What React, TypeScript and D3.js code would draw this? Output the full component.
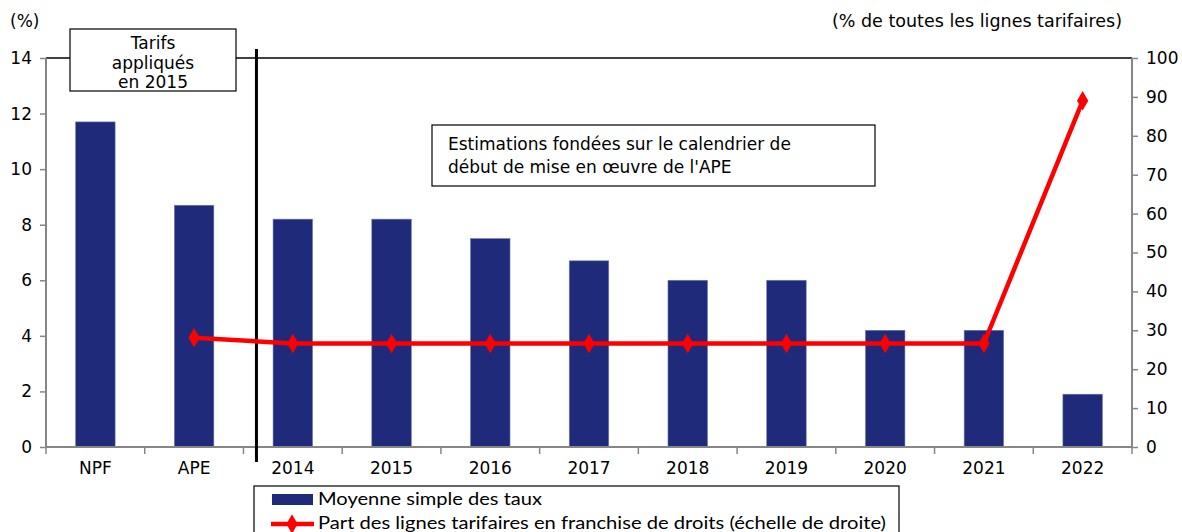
import * as d3 from "d3";
import { useEffect, useRef } from "react";

const categories = ["NPF", "APE", "2014", "2015", "2016", "2017", "2018", "2019", "2020", "2021", "2022"];
const avgRates = [11.7, 8.7, 8.2, 8.2, 7.5, 6.7, 6.0, 6.0, 4.2, 4.2, 1.9];
const dutyFreeShare = [null, 28.1, 26.6, 26.6, 26.6, 26.6, 26.6, 26.6, 26.6, 26.6, 89];
const leftTicks = [0, 2, 4, 6, 8, 10, 12, 14];
const rightTicks = [0, 10, 20, 30, 40, 50, 60, 70, 80, 90, 100];

const W = 1182;
const H = 532;
const FONT = "'DejaVu Sans', Verdana, sans-serif";
const LEG_FONT = "Lato, Carlito, Calibri, sans-serif";
const FS = 17;

export default function App() {
  const svgRef = useRef<SVGSVGElement>(null);

  useEffect(() => {
    const svg = d3.select(svgRef.current);
    svg.selectAll("*").remove();

    const left = 46, right = 1132, top = 58, bottom = 447;
    const x = d3.scaleBand().domain(categories).range([left, right]).paddingInner(0.6).paddingOuter(0.3);
    const xb = d3.scaleBand().domain(categories).range([left, right]);
    const yL = d3.scaleLinear().domain([0, 14]).range([bottom, top]);
    const yR = d3.scaleLinear().domain([0, 100]).range([bottom, top]);
    const grey = "#868686";

    // top border
    svg.append("line").attr("x1", left).attr("x2", right).attr("y1", top).attr("y2", top)
      .attr("stroke", "#000").attr("stroke-width", 1.5);

    // bars
    svg.append("g").selectAll("rect").data(categories).enter().append("rect")
      .attr("x", (d) => x(d)!)
      .attr("width", x.bandwidth())
      .attr("y", (_, i) => yL(avgRates[i]))
      .attr("height", (_, i) => bottom - yL(avgRates[i]))
      .attr("fill", "#1f2b7a")
      .attr("stroke", "#6f78b0").attr("stroke-width", 0.6);

    // axes
    const axL = svg.append("g").attr("transform", `translate(${left},0)`)
      .call(d3.axisLeft(yL).tickValues(leftTicks).tickSize(6).tickPadding(8).tickFormat(d3.format("d")));
    const axR = svg.append("g").attr("transform", `translate(${right},0)`)
      .call(d3.axisRight(yR).tickValues(rightTicks).tickSize(6).tickPadding(8).tickFormat(d3.format("d")));
    const axB = svg.append("g").attr("transform", `translate(0,${bottom})`)
      .call(d3.axisBottom(xb).tickSize(0).tickPadding(15));
    // category boundary ticks
    const bounds = categories.map((c) => xb(c)!).concat([right]);
    svg.append("g").selectAll("line").data(bounds).enter().append("line")
      .attr("x1", (d) => d).attr("x2", (d) => d).attr("y1", bottom).attr("y2", bottom + 7)
      .attr("stroke", grey).attr("stroke-width", 1.5);

    [axL, axR, axB].forEach((g) => {
      g.selectAll("path.domain").attr("stroke", grey).attr("stroke-width", 2);
      g.selectAll(".tick line").attr("stroke", grey).attr("stroke-width", 1.5);
      g.selectAll("text").attr("font-family", FONT).attr("font-size", FS).attr("fill", "#000");
    });
    axL.select("path.domain").attr("d", `M0,${bottom}V${top}`);
    axR.select("path.domain").attr("d", `M0,${bottom}V${top}`);
    axB.select("path.domain").attr("d", `M${left},0H${right}`);

    // vertical separator, just right of the APE/2014 boundary
    const sepX = xb("2014")! + 13;
    svg.append("line").attr("x1", sepX).attr("x2", sepX).attr("y1", 49).attr("y2", 462)
      .attr("stroke", "#000").attr("stroke-width", 3);

    // line series
    const pts = categories.map((c, i) => ({ c, v: dutyFreeShare[i] })).filter((p) => p.v !== null) as { c: string; v: number }[];
    const cx = (c: string) => xb(c)! + xb.bandwidth() / 2;
    const line = d3.line<{ c: string; v: number }>().x((d) => cx(d.c)).y((d) => yR(d.v));
    svg.append("path").datum(pts).attr("d", line).attr("fill", "none")
      .attr("stroke", "#ff0000").attr("stroke-width", 4.5).attr("stroke-linejoin", "round");
    const diamond = d3.symbol().type(d3.symbolDiamond).size(110);
    svg.append("g").selectAll("path").data(pts).enter().append("path")
      .attr("d", diamond)
      .attr("transform", (d) => `translate(${cx(d.c)},${yR(d.v)})`)
      .attr("fill", "#ff0000");

    // axis titles
    svg.append("text").attr("x", 10).attr("y", 27).text("(%)")
      .attr("font-family", FONT).attr("font-size", FS);
    svg.append("text").attr("x", 1122).attr("y", 27).attr("text-anchor", "end")
      .text("(% de toutes les lignes tarifaires)")
      .attr("font-family", FONT).attr("font-size", 17.5);

    // annotation box 1
    svg.append("rect").attr("x", 70).attr("y", 29).attr("width", 166).attr("height", 62)
      .attr("fill", "#fff").attr("stroke", "#000").attr("stroke-width", 1.2);
    ["Tarifs", "appliqués", "en 2015"].forEach((t, i) => {
      svg.append("text").attr("x", 153).attr("y", 49 + i * 19.5).attr("text-anchor", "middle")
        .text(t).attr("font-family", FONT).attr("font-size", FS);
    });

    // annotation box 2
    svg.append("rect").attr("x", 432).attr("y", 125).attr("width", 443).attr("height", 61)
      .attr("fill", "#fff").attr("stroke", "#000").attr("stroke-width", 1.2);
    ["Estimations fondées sur le calendrier de", "début de mise en œuvre de l'APE"].forEach((t, i) => {
      svg.append("text").attr("x", 448).attr("y", 150 + i * 23)
        .text(t).attr("font-family", FONT).attr("font-size", FS);
    });

    // legend
    svg.append("rect").attr("x", 254).attr("y", 486).attr("width", 645).attr("height", 60)
      .attr("fill", "#fff").attr("stroke", "#000").attr("stroke-width", 1.2);
    svg.append("rect").attr("x", 272).attr("y", 494).attr("width", 41).attr("height", 11)
      .attr("fill", "#1f2b7a");
    svg.append("text").attr("x", 318).attr("y", 505).text("Moyenne simple des taux")
      .attr("font-family", LEG_FONT).attr("font-size", 18)
      .attr("textLength", 224).attr("lengthAdjust", "spacingAndGlyphs");
    svg.append("line").attr("x1", 271).attr("x2", 314).attr("y1", 524).attr("y2", 524)
      .attr("stroke", "#ff0000").attr("stroke-width", 4.5);
    svg.append("path").attr("d", diamond).attr("transform", "translate(292,524)").attr("fill", "#ff0000");
    svg.append("text").attr("x", 318).attr("y", 529)
      .text("Part des lignes tarifaires en franchise de droits (échelle de droite)")
      .attr("font-family", LEG_FONT).attr("font-size", 18)
      .attr("textLength", 568).attr("lengthAdjust", "spacingAndGlyphs");
  }, []);

  return (
    <svg ref={svgRef} width={W} height={H} style={{ position: "absolute", left: 0, top: 0, background: "#fff" }} />
  );
}
